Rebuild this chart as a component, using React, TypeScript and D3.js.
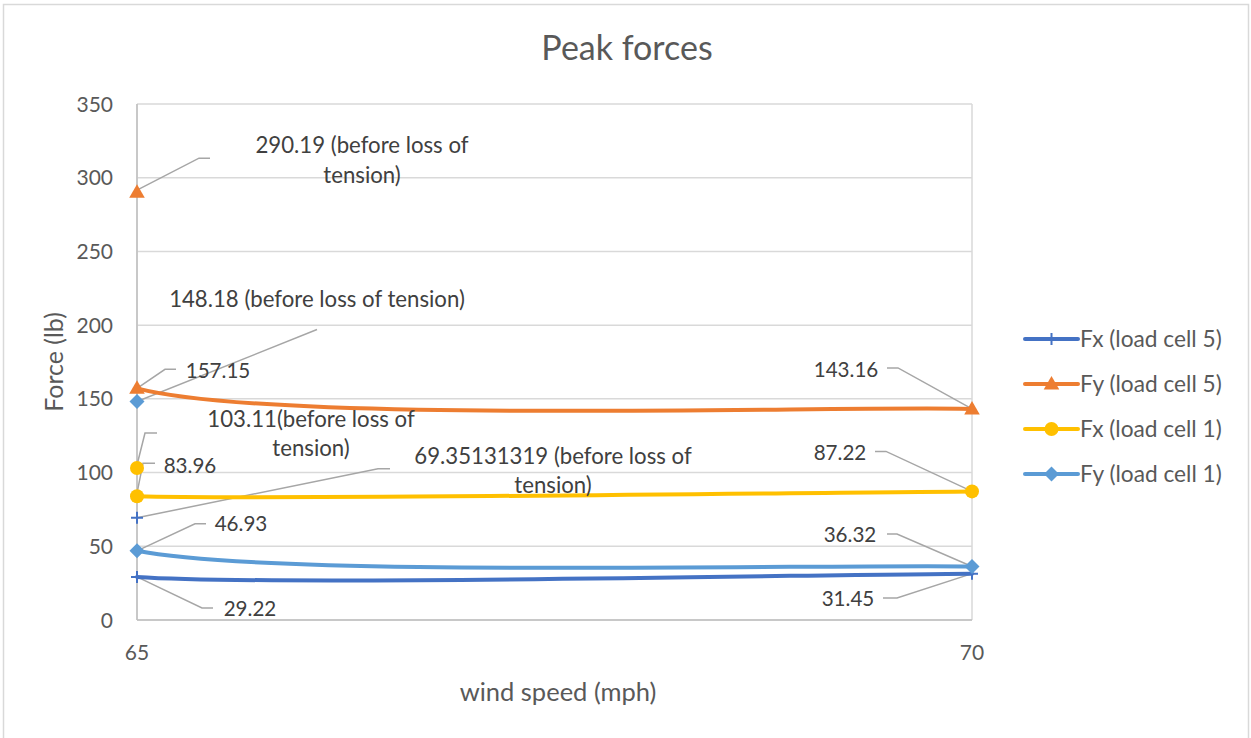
import React from "react";
import * as d3 from "d3";

// ---------- data ----------
const windSpeeds = [65, 70];
const seriesNames = ["Fx (load cell 5)", "Fy (load cell 5)", "Fx (load cell 1)", "Fy (load cell 1)"];
const fx5 = [29.22, 31.45];
const fy5 = [157.15, 143.16];
const fx1 = [83.96, 87.22];
const fy1 = [46.93, 36.32];
// values at 65 mph recorded before loss of tension
const beforeLoss = [69.35131319, 290.19, 103.11, 148.18];
const yTicks = [0, 50, 100, 150, 200, 250, 300, 350];
const xTicks = [65, 70];
const title = "Peak forces";
const xTitle = "wind speed (mph)";
const yTitle = "Force (lb)";

// ---------- style / layout ----------
const W = 1251;
const H = 738;
const plot = { left: 137, right: 972, top: 104, bottom: 620 };
const colors = ["#4472C4", "#ED7D31", "#FFC000", "#5B9BD5"];
const markers = ["cross", "triangle", "circle", "diamond"];
const FONT = "Lato, 'Open Sans', sans-serif";

// label layouts: series index, which point ("pre" | 0 | 1), text lines, label center offset, leader offsets
type LabelLayout = { s: number; p: "pre" | number; lines: string[]; dx: number; dy: number; leader: [number, number][] };
const labelLayouts: LabelLayout[] = [
  { s: 1, p: "pre", lines: ["{v} (before loss of", "tension)"], dx: 225, dy: -47, leader: [[0, -2], [62, -34], [73, -34]] },
  { s: 1, p: 0, lines: ["{v}"], dx: 81, dy: -18, leader: [[0, 0], [28, -19], [39, -19]] },
  { s: 3, p: "pre", lines: ["{v} (before loss of tension)"], dx: 180, dy: -103, leader: [[0, 0], [180, -72]] },
  { s: 2, p: "pre", lines: ["{v}(before loss of", "tension)"], dx: 174, dy: -49, leader: [[0, -3], [8, -35], [20, -35]] },
  { s: 2, p: 0, lines: ["{v}"], dx: 53, dy: -31, leader: [[0, -3], [6, -33], [18, -33]] },
  { s: 0, p: "pre", lines: ["{v} (before loss of", "tension)"], dx: 416, dy: -62, leader: [[0, 0], [241, -49], [253, -49]] },
  { s: 3, p: 0, lines: ["{v}"], dx: 104, dy: -27, leader: [[0, 0], [58, -27], [69, -27]] },
  { s: 0, p: 0, lines: ["{v}"], dx: 113, dy: 32, leader: [[0, 0], [65, 31], [76, 31]] },
  { s: 1, p: 1, lines: ["{v}"], dx: -126, dy: -39, leader: [[0, 0], [-74, -41], [-85, -41]] },
  { s: 2, p: 1, lines: ["{v}"], dx: -132, dy: -39, leader: [[0, 0], [-86, -40], [-97, -40]] },
  { s: 3, p: 1, lines: ["{v}"], dx: -122, dy: -32, leader: [[0, 0], [-75, -32.5], [-85, -32.5]] },
  { s: 0, p: 1, lines: ["{v}"], dx: -124, dy: 24.5, leader: [[0, 0], [-75, 24.4], [-89, 24.4]] },
];

function Marker({ type, x, y, color }: { type: string; x: number; y: number; color: string }) {
  if (type === "cross") {
    return (
      <path d={`M${x - 6},${y}H${x + 6}M${x},${y - 6}V${y + 6}`} stroke={color} strokeWidth={2} fill="none" />
    );
  }
  if (type === "triangle") {
    const sym = d3.symbol(d3.symbolTriangle, 105)();
    return <path d={sym || ""} transform={`translate(${x},${y + 1})`} fill={color} />;
  }
  if (type === "circle") {
    return <circle cx={x} cy={y} r={7} fill={color} />;
  }
  const r = 7.5;
  return <path d={`M${x},${y - r}L${x + r},${y}L${x},${y + r}L${x - r},${y}Z`} fill={color} />;
}

export default function App() {
  const x = d3.scaleLinear().domain([65, 70]).range([plot.left, plot.right]);
  const y = d3.scaleLinear().domain([0, 350]).range([plot.bottom, plot.top]);
  const seriesValues = [fx5, fy5, fx1, fy1];

  const pts = seriesValues.map((vals, i) => {
    const pre: [number, number] = [x(windSpeeds[0]), y(beforeLoss[i])];
    const p0: [number, number] = [x(windSpeeds[0]), y(vals[0])];
    const p1: [number, number] = [x(windSpeeds[1]), y(vals[1])];
    return { pre, p0, p1 };
  });

  // Catmull-Rom segment (pre -> p0 -> p1), drawing only the p0 -> p1 part
  const curvePath = (i: number) => {
    const { pre, p0, p1 } = pts[i];
    const c1: [number, number] = [p0[0] + (p1[0] - pre[0]) / 6, p0[1] + (p1[1] - pre[1]) / 6];
    const c2: [number, number] = [p1[0] - (p1[0] - p0[0]) / 6, p1[1] - (p1[1] - p0[1]) / 6];
    const path = d3.path();
    path.moveTo(p0[0], p0[1]);
    path.bezierCurveTo(c1[0], c1[1], c2[0], c2[1], p1[0], p1[1]);
    return path.toString();
  };

  const fmt = (v: number) => String(v);

  const legendY = [339, 384, 429, 474];

  return (
    <svg width={W} height={H} style={{ position: "absolute", left: 0, top: 0 }} fontFamily={FONT}>
      <rect x={0} y={0} width={W} height={H} fill="#ffffff" />
      <rect x={3.5} y={4.5} width={1245} height={H + 10} fill="none" stroke="#d9d9d9" strokeWidth={1.5} />

      {/* gridlines */}
      {yTicks.map((t) => (
        <line key={"gy" + t} x1={plot.left} x2={plot.right} y1={y(t)} y2={y(t)} stroke="#d9d9d9" strokeWidth={1.5} />
      ))}
      {xTicks.map((t) => (
        <line key={"gx" + t} x1={x(t)} x2={x(t)} y1={plot.top} y2={plot.bottom} stroke="#d9d9d9" strokeWidth={1.5} />
      ))}
      {/* axes */}
      <line x1={plot.left} x2={plot.left} y1={plot.top} y2={plot.bottom} stroke="#bfbfbf" strokeWidth={1.5} />
      <line x1={plot.left} x2={plot.right} y1={plot.bottom} y2={plot.bottom} stroke="#bfbfbf" strokeWidth={1.5} />

      {/* tick labels */}
      {yTicks.map((t) => (
        <text key={"ty" + t} x={113} y={y(t)} dy="0.36em" textAnchor="end" fontSize={21} fill="#595959">
          {t}
        </text>
      ))}
      {xTicks.map((t) => (
        <text key={"tx" + t} x={x(t)} y={652} dy="0.36em" textAnchor="middle" fontSize={21} fill="#595959">
          {t}
        </text>
      ))}

      {/* titles */}
      <text x={627} y={48} dy="0.36em" textAnchor="middle" fontSize={34} fill="#595959">
        {title}
      </text>
      <text x={558} y={692} dy="0.36em" textAnchor="middle" fontSize={25.5} fill="#595959">
        {xTitle}
      </text>
      <text
        transform={`translate(54,${(plot.top + plot.bottom) / 2}) rotate(-90)`}
        dy="0.36em"
        textAnchor="middle"
        fontSize={25}
        fill="#595959"
      >
        {yTitle}
      </text>

      {/* leader lines */}
      {labelLayouts.map((l, k) => {
        const base = l.p === "pre" ? pts[l.s].pre : l.p === 0 ? pts[l.s].p0 : pts[l.s].p1;
        const line = d3.line();
        const d = line(l.leader.map(([dx, dy]) => [base[0] + dx, base[1] + dy] as [number, number]));
        return <path key={"ll" + k} d={d || ""} fill="none" stroke="#a6a6a6" strokeWidth={1.5} />;
      })}

      {/* series lines */}
      {seriesValues.map((_, i) => (
        <path key={"line" + i} d={curvePath(i)} fill="none" stroke={colors[i]} strokeWidth={4} strokeLinecap="round" />
      ))}
      {/* markers */}
      {seriesValues.map((_, i) => (
        <g key={"mk" + i}>
          <Marker type={markers[i]} x={pts[i].pre[0]} y={pts[i].pre[1]} color={colors[i]} />
          <Marker type={markers[i]} x={pts[i].p0[0]} y={pts[i].p0[1]} color={colors[i]} />
          <Marker type={markers[i]} x={pts[i].p1[0]} y={pts[i].p1[1]} color={colors[i]} />
        </g>
      ))}

      {/* data labels */}
      {labelLayouts.map((l, k) => {
        const val = l.p === "pre" ? beforeLoss[l.s] : seriesValues[l.s][l.p as number];
        const base = l.p === "pre" ? pts[l.s].pre : l.p === 0 ? pts[l.s].p0 : pts[l.s].p1;
        const numericOnly = l.lines.length === 1 && l.lines[0] === "{v}";
        return (
          <text key={"lb" + k} textAnchor="middle" fontSize={numericOnly ? 20.6 : 22.2} fill="#404040">
            {l.lines.map((ln, j) => (
              <tspan key={j} x={base[0] + l.dx} y={base[1] + l.dy + j * 29.5} dy="0.36em">
                {ln.replace("{v}", fmt(val))}
              </tspan>
            ))}
          </text>
        );
      })}

      {/* legend */}
      {seriesNames.map((name, i) => (
        <g key={"lg" + i}>
          <line x1={1025} x2={1078} y1={legendY[i]} y2={legendY[i]} stroke={colors[i]} strokeWidth={4} strokeLinecap="round" />
          <Marker type={markers[i]} x={1051.5} y={legendY[i]} color={colors[i]} />
          <text x={1080} y={legendY[i]} dy="0.36em" fontSize={22.7} fill="#595959">
            {name}
          </text>
        </g>
      ))}
    </svg>
  );
}
